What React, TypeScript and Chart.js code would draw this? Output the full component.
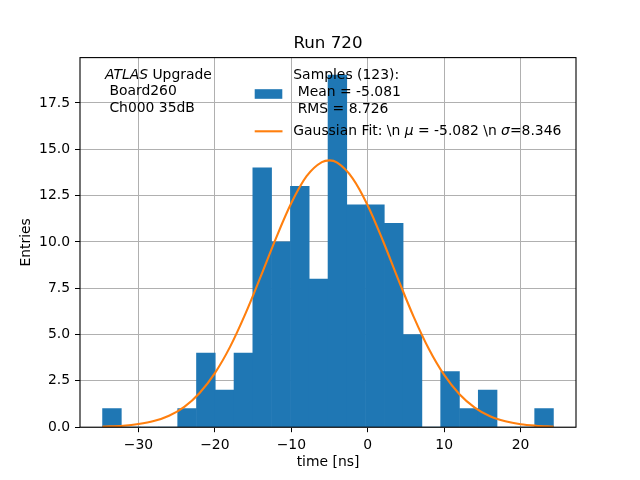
import React, { useEffect, useRef } from 'react';
import { Chart, registerables } from 'chart.js';

Chart.register(...registerables);

// ---- data ----
const binCenters = [
  -33.47, -31.01, -28.56, -26.1, -23.64, -21.18, -18.72, -16.27, -13.81, -11.35, -8.89, -6.43,
  -3.97, -1.52, 0.94, 3.4, 5.86, 8.32, 10.77, 13.23, 15.69, 18.15, 20.61, 23.07,
];
const binCounts = [1, 0, 0, 0, 1, 4, 2, 4, 14, 10, 13, 8, 19, 12, 12, 11, 5, 0, 3, 1, 2, 0, 0, 1];

const fitX = [
  -34.7, -32, -30, -28, -26, -24, -22, -20, -18, -16, -14, -12, -10, -8, -6, -5, -4, -2, 0, 2, 4, 6,
  8, 10, 12, 14, 16, 18, 20, 22, 24.3,
];
const fitY = [
  0.03, 0.08, 0.17, 0.33, 0.62, 1.1, 1.85, 2.92, 4.35, 6.13, 8.14, 10.21, 12.1, 13.55, 14.31, 14.4,
  14.28, 13.45, 11.97, 10.05, 7.97, 5.97, 4.22, 2.82, 1.78, 1.06, 0.59, 0.32, 0.16, 0.08, 0.03,
];

const xTicks = [-30, -20, -10, 0, 10, 20];
const yTicks = [0, 2.5, 5, 7.5, 10, 12.5, 15, 17.5];

const titleText = 'Run 720';
const xLabel = 'time [ns]';
const yLabel = 'Entries';
const samplesLines = ['Samples (123):', ' Mean = -5.081', ' RMS = 8.726'];
const boardLines = [' Board260', ' Ch000 35dB'];

const FONT = '"DejaVu Sans", sans-serif';
const BLUE = '#1f77b4';
const ORANGE = '#ff7f0e';

type Run = [string, boolean];

function drawRuns(ctx: CanvasRenderingContext2D, x: number, y: number, runs: Run[], size: number) {
  let cx = x;
  ctx.textAlign = 'left';
  for (const [t, it] of runs) {
    ctx.font = `${it ? 'italic ' : ''}${size}px ${FONT}`;
    ctx.fillText(t, cx, y);
    cx += ctx.measureText(t).width;
  }
}

const overlayPlugin = {
  id: 'overlay',
  afterDatasetsDraw(chart: any) {
    const { ctx, chartArea } = chart;
    ctx.save();
    ctx.strokeStyle = '#000';
    ctx.lineWidth = 1.1;
    ctx.strokeRect(chartArea.left, chartArea.top, chartArea.right - chartArea.left, chartArea.bottom - chartArea.top);
    ctx.restore();
  },
  afterDraw(chart: any) {
    const ctx: CanvasRenderingContext2D = chart.ctx;
    const ca = chart.chartArea;
    const cx = (ca.left + ca.right) / 2;
    ctx.save();
    ctx.fillStyle = '#000';
    ctx.textBaseline = 'middle';

    // title
    ctx.font = `16.7px ${FONT}`;
    ctx.textAlign = 'center';
    ctx.fillText(titleText, cx, 43.3);

    // axis labels
    ctx.font = `13.9px ${FONT}`;
    ctx.fillText(xLabel, cx, 462.7);
    ctx.save();
    ctx.translate(26, (ca.top + ca.bottom) / 2);
    ctx.rotate(-Math.PI / 2);
    ctx.fillText(yLabel, 0, 0);
    ctx.restore();

    // top-left annotation
    drawRuns(ctx, 105, 75, [['ATLAS', true], [' Upgrade', false]], 13.9);
    drawRuns(ctx, 105, 91.7, [[boardLines[0], false]], 13.9);
    drawRuns(ctx, 105, 108.3, [[boardLines[1], false]], 13.9);

    // legend
    ctx.fillStyle = BLUE;
    ctx.fillRect(254.7, 89.2, 27.6, 9.6);
    ctx.strokeStyle = ORANGE;
    ctx.lineWidth = 2.1;
    ctx.beginPath();
    ctx.moveTo(254.7, 131.3);
    ctx.lineTo(282.5, 131.3);
    ctx.stroke();
    ctx.fillStyle = '#000';
    drawRuns(ctx, 293.3, 75.7, [[samplesLines[0], false]], 13.9);
    drawRuns(ctx, 293.3, 92.5, [[samplesLines[1], false]], 13.9);
    drawRuns(ctx, 293.3, 109.3, [[samplesLines[2], false]], 13.9);
    drawRuns(
      ctx,
      293.3,
      131.3,
      [
        ['Gaussian Fit: \\n ', false],
        ['\u03bc', true],
        [' = -5.082 \\n ', false],
        ['\u03c3', true],
        ['=8.346', false],
      ],
      13.9,
    );
    ctx.restore();
  },
};

export default function App() {
  const ref = useRef<HTMLCanvasElement>(null);

  useEffect(() => {
    const canvas = ref.current;
    if (!canvas) return;
    const chart = new Chart(canvas, {
      type: 'bar',
      data: {
        datasets: [
          {
            type: 'line',
            label: 'Gaussian Fit',
            data: fitX.map((x, i) => ({ x, y: fitY[i] })),
            borderColor: ORANGE,
            borderWidth: 2.1,
            pointRadius: 0,
            fill: false,
            cubicInterpolationMode: 'monotone',
            order: 0,
          } as any,
          {
            type: 'bar',
            label: 'Samples',
            data: binCenters.map((x, i) => ({ x, y: binCounts[i] })),
            backgroundColor: BLUE,
            borderWidth: 0,
            barPercentage: 1,
            categoryPercentage: 1,
            order: 1,
          } as any,
        ],
      },
      options: {
        responsive: false,
        animation: false,
        devicePixelRatio: 1,
        layout: { padding: { top: 57.6, right: 64, left: 0, bottom: 0 } },
        plugins: {
          legend: { display: false },
          tooltip: { enabled: false },
          title: { display: false },
        },
        scales: {
          x: {
            type: 'linear',
            min: -37.65,
            max: 27.25,
            offset: false,
            grid: {
              offset: false,
              color: '#b0b0b0',
              lineWidth: 1,
              tickColor: '#000',
              tickLength: 5,
              tickWidth: 1,
            },
            border: { display: false },
            ticks: {
              color: '#000',
              padding: 5,
              maxRotation: 0,
              autoSkip: false,
              font: { family: FONT, size: 13.9 },
              callback: (v: any) => (v < 0 ? '\u2212' + Math.abs(v) : String(v)),
            },
            afterBuildTicks: (scale: any) => {
              scale.ticks = xTicks.map((value) => ({ value }));
            },
            afterFit: (scale: any) => {
              scale.height = 52.8;
            },
          } as any,
          y: {
            type: 'linear',
            min: 0,
            max: 19.95,
            grid: {
              color: '#b0b0b0',
              lineWidth: 1,
              tickColor: '#000',
              tickLength: 5,
              tickWidth: 1,
            },
            border: { display: false },
            ticks: {
              color: '#000',
              padding: 5,
              autoSkip: false,
              font: { family: FONT, size: 13.9 },
              callback: (v: any) => Number(v).toFixed(1),
            },
            afterBuildTicks: (scale: any) => {
              scale.ticks = yTicks.map((value) => ({ value }));
            },
            afterFit: (scale: any) => {
              scale.width = 80;
            },
          } as any,
        },
      },
      plugins: [overlayPlugin],
    });
    return () => chart.destroy();
  }, []);

  return (
    <div style={{ position: 'fixed', left: 0, top: 0, width: 640, height: 480, background: '#fff' }}>
      <canvas ref={ref} width={640} height={480} style={{ display: 'block', width: 640, height: 480 }} />
    </div>
  );
}
